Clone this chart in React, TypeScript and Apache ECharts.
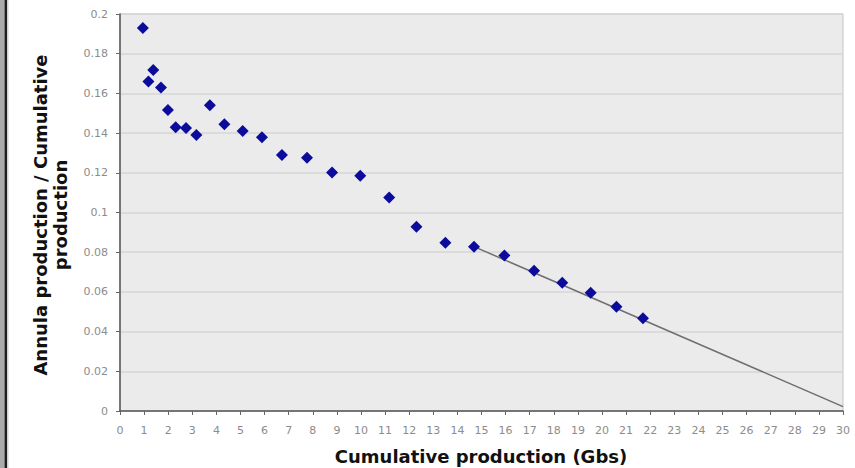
import React, { useEffect, useRef } from "react";
import * as echarts from "echarts";

const cumulativeGbs = [0.95, 1.18, 1.38, 1.7, 1.99, 2.31, 2.74, 3.17, 3.73, 4.33, 5.09, 5.89, 6.72, 7.76, 8.8, 9.97, 11.17, 12.3, 13.5, 14.69, 15.95, 17.18, 18.35, 19.53, 20.6, 21.7];
const ratio = [0.193, 0.166, 0.1718, 0.163, 0.1516, 0.1429, 0.1426, 0.139, 0.154, 0.1444, 0.141, 0.1379, 0.129, 0.1276, 0.1202, 0.1185, 0.1075, 0.0928, 0.0848, 0.0828, 0.0784, 0.0707, 0.0646, 0.0596, 0.0525, 0.0467];
const trendX = [14.69, 30];
const trendY = [0.0828, 0.0022];

const xTitle = "Cumulative production (Gbs)";
const yTitleLines = ["Annula production / Cumulative", "production"];

export default function App() {
  const ref = useRef<HTMLDivElement>(null);
  useEffect(() => {
    if (!ref.current) return;
    const chart = echarts.init(ref.current, null, { renderer: "svg" });
    const tickFont = { color: "#8c8c8c", fontSize: 11, fontFamily: "DejaVu Sans" };
    chart.setOption({
      animation: false,
      backgroundColor: "#ffffff",
      grid: {
        left: 120,
        right: 12,
        top: 14,
        bottom: 57,
        show: true,
        backgroundColor: "#ebebeb",
        borderColor: "#c4c4c4",
        borderWidth: 1,
      },
      xAxis: {
        type: "value",
        min: 0,
        max: 30,
        interval: 1,
        axisLine: { show: true, onZero: false, lineStyle: { color: "#555555", width: 1.5 } },
        axisTick: { show: true, length: 4, lineStyle: { color: "#666666" } },
        axisLabel: { ...tickFont, margin: 14 },
        splitLine: { show: false },
      },
      yAxis: {
        type: "value",
        min: 0,
        max: 0.2,
        interval: 0.02,
        axisLine: { show: true, onZero: false, lineStyle: { color: "#555555", width: 1.5 } },
        axisTick: { show: true, length: 4, lineStyle: { color: "#666666" } },
        axisLabel: {
          ...tickFont,
          margin: 12,
          formatter: (v: number) => String(Math.round(v * 100) / 100),
        },
        splitLine: { show: true, lineStyle: { color: "#d6d6d6", width: 1.5 } },
      },
      graphic: [
        { type: "rect", shape: { x: 0, y: 0, width: 4.5, height: 468 }, style: { fill: "#aaaaaa" } },
        { type: "rect", shape: { x: 4.5, y: 0, width: 2.5, height: 468 }, style: { fill: "#1e1e1e" } },
        { type: "rect", shape: { x: 7, y: 0, width: 1.5, height: 468 }, style: { fill: "#d0d0d0" } },
        {
          type: "text",
          x: 481,
          y: 456,
          style: {
            text: xTitle,
            fill: "#111111",
            font: "bold 18px 'DejaVu Sans'",
            textAlign: "center",
            textVerticalAlign: "middle",
          },
        },
        {
          type: "text",
          x: 50,
          y: 215,
          rotation: Math.PI / 2,
          style: {
            text: yTitleLines.join("\n"),
            fill: "#111111",
            font: "bold 18px 'DejaVu Sans'",
            lineHeight: 20,
            textAlign: "center",
            textVerticalAlign: "middle",
          },
        },
      ],
      series: [
        {
          type: "line",
          data: trendX.map((x, i) => [x, trendY[i]]),
          symbol: "none",
          lineStyle: { color: "#6e6e6e", width: 1.5 },
          z: 2,
        },
        {
          type: "scatter",
          data: cumulativeGbs.map((x, i) => [x, ratio[i]]),
          symbol: "diamond",
          symbolSize: 12,
          itemStyle: { color: "#0c0c9c", opacity: 1 },
          z: 3,
        },
      ],
    });
    return () => chart.dispose();
  }, []);
  return (
    <div
      ref={ref}
      style={{ position: "fixed", left: 0, top: 0, width: 855, height: 468 }}
    />
  );
}
